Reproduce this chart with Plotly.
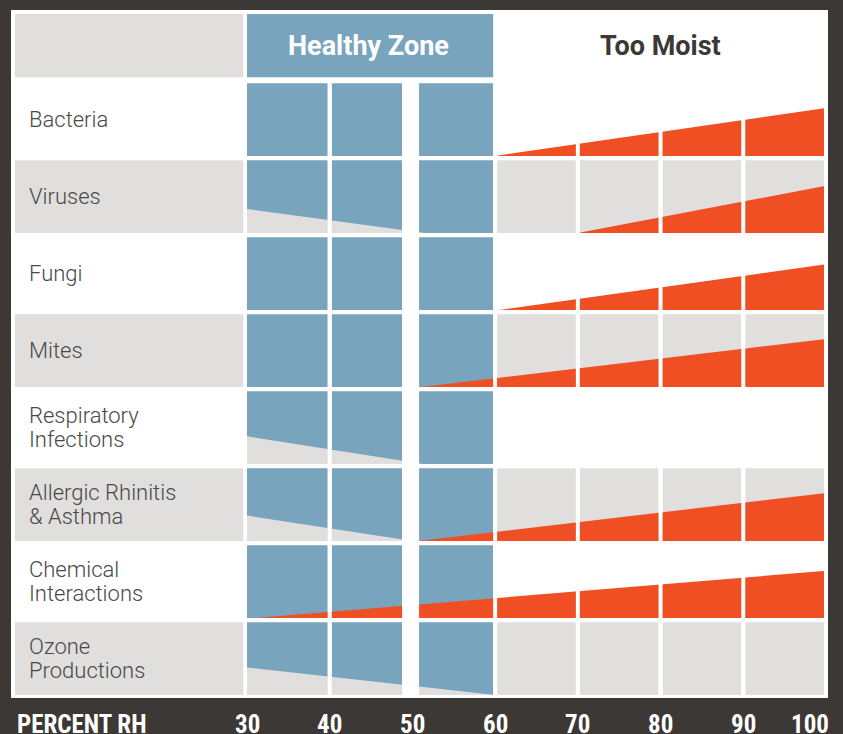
import plotly.graph_objects as go

# ---------------- data ----------------
rows = ["Bacteria", "Viruses", "Fungi", "Mites", "Respiratory<br>Infections",
        "Allergic Rhinitis<br>& Asthma", "Chemical<br>Interactions", "Ozone<br>Productions"]
# "too dry" risk: level (as % of cell height) at 30 %RH, falling to 0 at dry_end_rh
dry_level_30 = [0, 33, 0, 0, 38, 35, 0, 38]
dry_end_rh = [None, 51.5, None, None, 51.3, 50.0, None, 60.0]
# "too moist" risk: 0 at moist_start_rh, rising to level (as % of cell height) at 100 %RH
moist_start_rh = [60.0, 70.0, 60.5, 51.0, None, 50.7, 31.0, None]
moist_level_100 = [66, 65, 63, 66, 0, 66, 65, 0]

tick_values = [30, 40, 50, 60, 70, 80, 90, 100]
tick_labels = ["30", "40", "50", "60", "70", "80", "90", "100"]
axis_title = "PERCENT RH"
healthy_title = "Healthy Zone"
moist_title = "Too Moist"

# ---------------- styles / layout constants ----------------
BG = "#3c3835"
BLUE = "#78a5bd"
GRAY = "#e0dfde"
RED = "#f04e23"
TXT = "#4a4846"
FONT = "Roboto, Arial, sans-serif"
COND = "Roboto Condensed, Liberation Sans Narrow, Roboto, Arial, sans-serif"

CELL_H = 0.944          # cell height in row units (row pitch = 1)
HEAD = (-0.90, -0.078)  # header row y extent
LABEL_X = (1.95, 29.55) # label column extent
GAP = 0.24              # half gap between columns (RH units)
BIG_GAP = (48.75, 50.8) # wide gap at 50 %RH
X_RANGE = [1.467, 100.245]
Y_RANGE = [7.983, -0.952]
LINE_OFF = 0.152        # half line spacing for two-line labels (row units)

# column cells (RH units)
cols = []
for a in range(30, 100, 10):
    x0 = a + GAP if a > 30 else 30
    x1 = a + 10 - GAP
    if a == 40:
        x1 = BIG_GAP[0]
    if a == 50:
        x0 = BIG_GAP[1]
    cols.append((a, x0, x1))

fig = go.Figure()
shapes = []

# header cells
shapes.append(dict(type="rect", xref="x", yref="y", x0=LABEL_X[0], x1=LABEL_X[1],
                   y0=HEAD[0], y1=HEAD[1], fillcolor=GRAY, line_width=0, layer="below"))
shapes.append(dict(type="rect", xref="x", yref="y", x0=30, x1=60 - GAP,
                   y0=HEAD[0], y1=HEAD[1], fillcolor=BLUE, line_width=0, layer="below"))

for i, name in enumerate(rows):
    top, bot = i, i + CELL_H
    shaded = (i % 2 == 1)
    if shaded:
        shapes.append(dict(type="rect", xref="x", yref="y", x0=LABEL_X[0], x1=LABEL_X[1],
                           y0=top, y1=bot, fillcolor=GRAY, line_width=0, layer="below"))
    for a, x0, x1 in cols:
        if a < 60:
            col = BLUE
        elif shaded:
            col = GRAY
        else:
            continue
        shapes.append(dict(type="rect", xref="x", yref="y", x0=x0, x1=x1,
                           y0=top, y1=bot, fillcolor=col, line_width=0, layer="below"))

    # too-dry wedge
    if dry_level_30[i] > 0:
        h = dry_level_30[i] / 100 * CELL_H
        fig.add_trace(go.Scatter(x=[30, 30, dry_end_rh[i], 30], y=[bot, bot - h, bot, bot],
                                 mode="lines", fill="toself", fillcolor=GRAY,
                                 line=dict(width=0, color=GRAY), hoverinfo="skip",
                                 showlegend=False))
    # too-moist wedge
    if moist_start_rh[i] is not None and moist_level_100[i] > 0:
        h = moist_level_100[i] / 100 * CELL_H
        fig.add_trace(go.Scatter(x=[moist_start_rh[i], 100, 100, moist_start_rh[i]],
                                 y=[bot, bot, bot - h, bot],
                                 mode="lines", fill="toself", fillcolor=RED,
                                 line=dict(width=0, color=RED), hoverinfo="skip",
                                 showlegend=False))

# white gaps between columns drawn over the wedges
gap_y0, gap_y1 = -0.03, Y_RANGE[0]
for a in range(40, 100, 10):
    if a == 50:
        g0, g1 = BIG_GAP
    else:
        g0, g1 = a - GAP, a + GAP
    shapes.append(dict(type="rect", xref="x", yref="y", x0=g0, x1=g1, y0=gap_y0, y1=gap_y1,
                       fillcolor="white", line_width=0, layer="above"))
shapes.append(dict(type="rect", xref="x", yref="y", x0=100 - GAP, x1=X_RANGE[1] + 1,
                   y0=gap_y0, y1=gap_y1, fillcolor="white", line_width=0, layer="above"))

annotations = []
for i, name in enumerate(rows):
    lines = name.split("<br>")
    n = len(lines)
    for k, line in enumerate(lines):
        yc = i + CELL_H / 2 + (k - (n - 1) / 2) * 2 * LINE_OFF
        annotations.append(dict(x=3.40, y=yc, xref="x", yref="y", text=line,
                                showarrow=False, xanchor="left", yanchor="middle", align="left",
                                font=dict(family=FONT, size=22, color=TXT, weight=300)))
annotations.append(dict(x=(30 + 60) / 2 - 0.3, y=sum(HEAD) / 2 + 0.01, xref="x", yref="y",
                        text="<b>%s</b>" % healthy_title, showarrow=False,
                        font=dict(family=FONT, size=27, color="white")))
annotations.append(dict(x=80, y=sum(HEAD) / 2 + 0.01, xref="x", yref="y",
                        text="<b>%s</b>" % moist_title, showarrow=False,
                        font=dict(family=FONT, size=27, color="#3c3835")))
# bottom axis labels
LAB_Y = -0.0378
annotations.append(dict(x=1.95, y=LAB_Y, xref="x", yref="paper", text="<b>%s</b>" % axis_title,
                        showarrow=False, xanchor="left", yanchor="middle",
                        font=dict(family=COND, size=25, color="white")))
for v, t in zip(tick_values, tick_labels):
    ann = dict(x=v, y=LAB_Y, xref="x", yref="paper", text="<b>%s</b>" % t, showarrow=False,
               xanchor="center", yanchor="middle",
               font=dict(family=COND, size=25, color="white"))
    if v == tick_values[-1]:
        ann.update(xanchor="right", xshift=5)
    annotations.append(ann)

fig.update_layout(
    width=843, height=734,
    margin=dict(l=11, r=15, t=10, b=36),
    paper_bgcolor=BG, plot_bgcolor="white",
    shapes=shapes, annotations=annotations,
    xaxis=dict(range=X_RANGE, visible=False, fixedrange=True),
    yaxis=dict(range=Y_RANGE, visible=False, fixedrange=True),
    showlegend=False,
)

fig.write_html("out.html", config={"displayModeBar": False},
               post_script="document.body.style.margin='0';document.body.style.overflow='hidden';")
